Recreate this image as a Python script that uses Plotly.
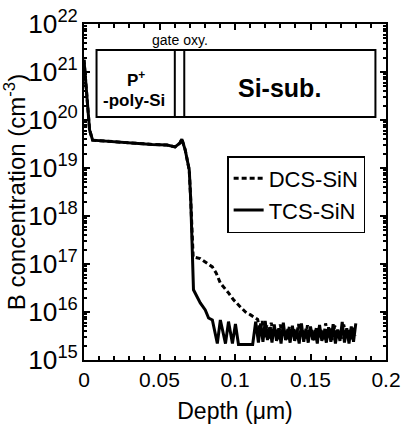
import plotly.graph_objects as go

# ---- data (depth in um, B concentration in cm^-3) ----
tcs_depth = [0.0, 0.002, 0.0037, 0.0057, 0.015, 0.03, 0.045, 0.055, 0.0603, 0.0635, 0.0648, 0.067,
             0.0683, 0.0697, 0.0707, 0.0713, 0.0717, 0.0725, 0.077, 0.0803, 0.0825,
             0.085, 0.0883, 0.0903, 0.0937, 0.0957, 0.0983, 0.1003, 0.1023, 0.1117, 0.1137,
             0.1155, 0.117, 0.1185, 0.120, 0.1215, 0.123, 0.1245, 0.126, 0.1275, 0.129,
             0.1305, 0.132, 0.1335, 0.135, 0.1365, 0.138, 0.1395, 0.141, 0.1425, 0.144,
             0.1455, 0.147, 0.1485, 0.150, 0.1515, 0.153, 0.1545, 0.156, 0.1575, 0.159,
             0.1605, 0.162, 0.1635, 0.165, 0.1665, 0.168, 0.1695, 0.171, 0.1725, 0.174,
             0.1755, 0.177, 0.1785, 0.180]
tcs_conc = [1.8e21, 3.3e20, 6.2e19, 3.8e19, 3.6e19, 3.4e19, 3.1e19, 3.0e19, 2.75e19, 3.3e19, 4.0e19, 2.4e19,
            1.5e19, 9.1e18, 2.1e18, 3.2e17, 1.1e17, 2.9e16, 1.55e16, 1.1e16, 7.5e15,
            6.8e15, 2.2e15, 6.8e15, 2.2e15, 6.3e15, 2.2e15, 5.6e15, 2.1e15, 2.1e15, 6.3e15,
            2.3e15, 5.8e15, 2.4e15, 6.5e15, 2.6e15, 4.8e15, 2.3e15, 5.5e15, 2.5e15, 4.6e15,
            2.2e15, 6.0e15, 2.6e15, 4.4e15, 2.3e15, 5.2e15, 2.5e15, 4.0e15, 2.2e15, 5.8e15,
            2.4e15, 4.5e15, 2.3e15, 5.0e15, 2.6e15, 4.2e15, 2.2e15, 5.4e15, 2.5e15, 4.0e15,
            2.3e15, 4.8e15, 2.4e15, 5.6e15, 2.2e15, 4.3e15, 2.5e15, 6.2e15, 2.3e15, 4.6e15,
            2.2e15, 5.0e15, 2.4e15, 5.8e15]

dcs_depth = [0.0, 0.002, 0.0037, 0.0057, 0.015, 0.03, 0.045, 0.055, 0.0603, 0.0635, 0.0648, 0.067,
             0.0683, 0.0697, 0.0707, 0.0715, 0.0723, 0.077, 0.085, 0.0875, 0.0903, 0.0957,
             0.099, 0.1037, 0.107, 0.1103, 0.115,
             0.1165, 0.118, 0.1195, 0.121, 0.1225, 0.124, 0.1255, 0.127, 0.1285, 0.130,
             0.1315, 0.133, 0.1345, 0.136, 0.1375, 0.139, 0.1405, 0.142, 0.1435, 0.145,
             0.1465, 0.148, 0.1495, 0.151, 0.1525, 0.154, 0.1555, 0.157, 0.1585, 0.160,
             0.1615, 0.163, 0.1645, 0.166, 0.1675, 0.169, 0.1705, 0.172, 0.1735, 0.175,
             0.1765, 0.178, 0.1795]
dcs_conc = [1.8e21, 3.3e20, 6.2e19, 3.8e19, 3.6e19, 3.4e19, 3.1e19, 3.0e19, 2.75e19, 3.3e19, 4.0e19, 2.4e19,
            1.5e19, 9.1e18, 2.1e18, 4.0e17, 1.4e17, 1.3e17, 8.7e16, 6.5e16, 4.0e16, 2.5e16,
            1.8e16, 1.26e16, 1.0e16, 8.7e15, 7.0e15,
            4.0e15, 6.5e15, 3.0e15, 5.2e15, 2.8e15, 6.0e15, 3.2e15, 4.6e15, 2.7e15, 5.5e15,
            3.0e15, 4.2e15, 2.6e15, 5.0e15, 3.1e15, 4.5e15, 2.8e15, 5.6e15, 3.0e15, 4.1e15,
            2.7e15, 5.3e15, 3.2e15, 4.4e15, 2.6e15, 5.0e15, 3.0e15, 4.2e15, 2.7e15, 5.8e15,
            3.0e15, 4.5e15, 2.6e15, 5.2e15, 3.1e15, 4.0e15, 2.8e15, 5.5e15, 3.0e15, 4.4e15,
            2.7e15, 5.0e15, 3.2e15]

series_names = ["DCS-SiN", "TCS-SiN"]
x_tick_vals = [0, 0.05, 0.1, 0.15, 0.2]
x_tick_text = ["0", "0.05", "0.1", "0.15", "0.2"]

FONT = "Liberation Sans, Arial, sans-serif"

fig = go.Figure()
fig.add_trace(go.Scatter(x=dcs_depth, y=dcs_conc, mode="lines", name=series_names[0],
                         line=dict(color="black", width=3, dash="5px,3px")))
fig.add_trace(go.Scatter(x=tcs_depth, y=tcs_conc, mode="lines", name=series_names[1],
                         line=dict(color="black", width=3)))

axis_common = dict(showline=True, linecolor="black", linewidth=2, mirror="ticks",
                   ticks="inside", tickcolor="black", tickwidth=1.5, ticklen=6,
                   showgrid=False, zeroline=False, automargin=False,
                   tickfont=dict(family=FONT, size=21, color="black"))

fig.update_xaxes(range=[0, 0.2], tickvals=x_tick_vals, ticktext=x_tick_text,
                 minor=dict(ticks="inside", dtick=0.01, ticklen=4, tickcolor="black", tickwidth=1.5),
                 title=dict(text="Depth (\u03bcm)", font=dict(family=FONT, size=23, color="black")),
                 **axis_common)
fig.update_yaxes(type="log", range=[15, 22], dtick=1, exponentformat="power",
                 minor=dict(ticks="inside", dtick="D1", ticklen=3, tickcolor="black", tickwidth=1.5),
                 title=dict(text="B concentration (cm<sup>-3</sup>)",
                            font=dict(family=FONT, size=24, color="black")),
                 **axis_common)

# inset device schematic
line = dict(color="black", width=2)
fig.add_shape(type="rect", xref="paper", yref="paper", x0=0.0415, x1=0.965, y0=0.7232, y1=0.9226, line=line)
fig.add_shape(type="line", xref="paper", yref="paper", x0=0.3007, x1=0.3007, y0=0.7232, y1=0.9226, line=line)
fig.add_shape(type="line", xref="paper", yref="paper", x0=0.332, x1=0.332, y0=0.7232, y1=0.9226, line=line)

ann = dict(xref="paper", yref="paper", showarrow=False, xanchor="center", yanchor="middle")
fig.add_annotation(x=0.317, y=0.952, text="gate oxy.", font=dict(family=FONT, size=14, color="black"), **ann)
fig.add_annotation(x=0.171, y=0.835, text="<b>P<sup>+</sup></b>", font=dict(family=FONT, size=17, color="black"), **ann)
fig.add_annotation(x=0.1645, y=0.771, text="<b>-poly-Si</b>", font=dict(family=FONT, size=17, color="black"), **ann)
fig.add_annotation(x=0.649, y=0.8095, text="<b>Si-sub.</b>", font=dict(family=FONT, size=25, color="black"), **ann)

fig.update_layout(
    width=403, height=424,
    margin=dict(l=84, r=17, t=24, b=64),
    paper_bgcolor="white", plot_bgcolor="white",
    showlegend=True,
    legend=dict(x=0.474, y=0.607, xanchor="left", yanchor="top",
                bordercolor="black", borderwidth=1.5, bgcolor="white",
                font=dict(family=FONT, size=22, color="black"),
                tracegroupgap=0, itemwidth=30),
)

fig.write_html("out.html")
